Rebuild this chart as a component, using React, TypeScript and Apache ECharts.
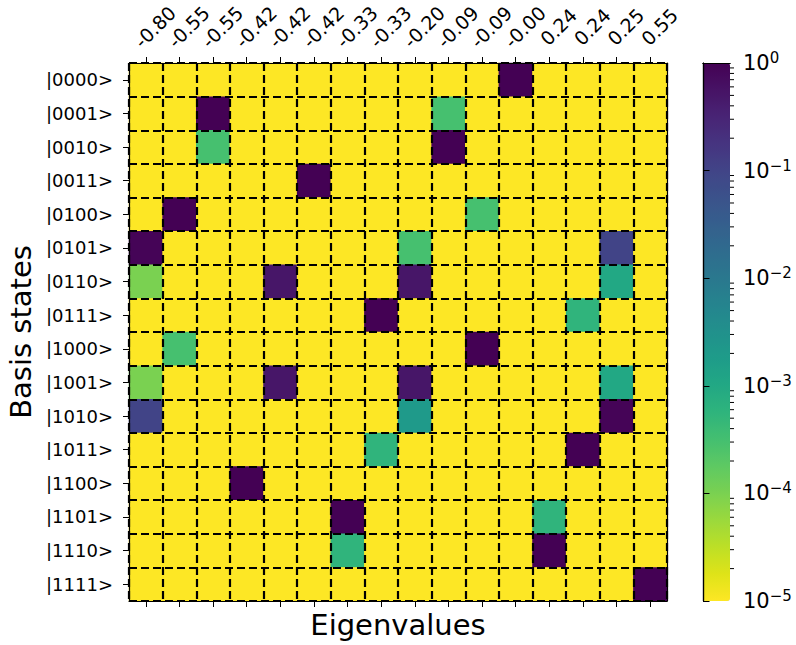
import React, { useEffect, useRef } from "react";
import * as echarts from "echarts";

const eigenvalueLabels = ["-0.80","-0.55","-0.55","-0.42","-0.42","-0.42","-0.33","-0.33","-0.20","-0.09","-0.09","-0.00","0.24","0.24","0.25","0.55"];
const basisStates = ["|0000>","|0001>","|0010>","|0011>","|0100>","|0101>","|0110>","|0111>","|1000>","|1001>","|1010>","|1011>","|1100>","|1101>","|1110>","|1111>"];

// probability |<basis|eigvec>|^2 ; rows = basis states, cols = eigenvectors
const row0000 = [0,0,0,0,0,0,0,0,0,0,0,1.0,0,0,0,0];
const row0001 = [0,0,0.999,0,0,0,0,0,0,3e-4,0,0,0,0,0,0];
const row0010 = [0,0,3e-4,0,0,0,0,0,0,0.999,0,0,0,0,0,0];
const row0011 = [0,0,0,0,0,1.0,0,0,0,0,0,0,0,0,0,0];
const row0100 = [0,1.0,0,0,0,0,0,0,0,0,3e-4,0,0,0,0,0];
const row0101 = [0.9,0,0,0,0,0,0,0,3e-4,0,0,0,0,0,0.1,0];
const row0110 = [1e-4,0,0,0,0.5,0,0,0,0.5,0,0,0,0,0,1e-3,0];
const row0111 = [0,0,0,0,0,0,0,1.0,0,0,0,0,0,5.5e-4,0,0];
const row1000 = [0,3e-4,0,0,0,0,0,0,0,0,1.0,0,0,0,0,0];
const row1001 = [1e-4,0,0,0,0.5,0,0,0,0.5,0,0,0,0,0,1e-3,0];
const row1010 = [0.1,0,0,0,0,0,0,0,2e-3,0,0,0,0,0,0.9,0];
const row1011 = [0,0,0,0,0,0,0,5.5e-4,0,0,0,0,0,1.0,0,0];
const row1100 = [0,0,0,1.0,0,0,0,0,0,0,0,0,0,0,0,0];
const row1101 = [0,0,0,0,0,0,1.0,0,0,0,0,0,5.5e-4,0,0,0];
const row1110 = [0,0,0,0,0,0,5.5e-4,0,0,0,0,0,1.0,0,0,0];
const row1111 = [0,0,0,0,0,0,0,0,0,0,0,0,0,0,0,1.0];
const probabilityRows = [row0000,row0001,row0010,row0011,row0100,row0101,row0110,row0111,row1000,row1001,row1010,row1011,row1100,row1101,row1110,row1111];

const logMin = -5;
const logMax = 0;
const colorbarDecades = [-5,-4,-3,-2,-1];
const minorMultipliers = [2,3,4,5,6,7,8,9];

// viridis, reversed (low -> yellow, high -> purple)
const viridis = ["#440154","#471365","#482475","#463480","#414487","#3b528b","#355f8d","#2f6c8e","#2a788e","#25848e","#21918c","#1e9c89","#22a884","#2fb47c","#44bf70","#5ec962","#7ad151","#9bd93c","#bddf26","#dfe318","#fde725"];
const viridisReversed = viridis.slice().reverse();

const FONT = "DejaVu Sans";

export default function App() {
  const ref = useRef<HTMLDivElement>(null);
  useEffect(() => {
    document.body.style.margin = "0";
    const chart = echarts.init(ref.current!, null, { renderer: "svg" });
    const heatData: number[][] = [];
    probabilityRows.forEach((row, r) => {
      row.forEach((p, c) => {
        const lv = p > 0 ? Math.max(logMin, Math.log10(p)) : logMin;
        heatData.push([c, r, lv]);
      });
    });
    const minorTicks: number[][] = [];
    colorbarDecades.forEach((d) => minorMultipliers.forEach((m) => minorTicks.push([1, d + Math.log10(m)])));

    const dashed = { color: "#000", width: 2.2, type: [8, 4] as any };
    const sup = (v: number) => (v === 0 ? "0" : "\u2212" + Math.abs(v));
    const tick = { show: true, alignWithLabel: true, interval: 0, length: 6, lineStyle: { color: "#000", width: 1 } };

    chart.setOption({
      animation: false,
      textStyle: { fontFamily: FONT },
      grid: [
        { left: 129, top: 63, width: 538, height: 538, show: true, backgroundColor: "#fde725", borderWidth: 0, outerBoundsMode: "none" },
        { left: 703, top: 63, width: 27, height: 538, show: false, outerBoundsMode: "none" },
      ],
      xAxis: [
        {
          type: "category", gridIndex: 0, data: eigenvalueLabels, position: "top", z: 5,
          axisLine: { show: true, lineStyle: { color: "#000", width: 1.2 } },
          axisTick: tick,
          axisLabel: {
            interval: 0, rotate: -45, align: "center", verticalAlign: "middle", margin: 27,
            fontSize: 19, color: "#000", fontFamily: FONT,
            formatter: (v: string) => `{t|${v}}`,
            rich: { t: { fontSize: 19, lineHeight: 20, fontFamily: FONT, color: "#000", padding: [0, 0, 0, 26] } },
          },
          splitLine: { show: true, interval: 0, lineStyle: dashed },
        },
        {
          type: "category", gridIndex: 0, data: eigenvalueLabels, position: "bottom", z: 5,
          axisLine: { show: true, lineStyle: { color: "#000", width: 1.2 } },
          axisTick: tick,
          axisLabel: { show: false, interval: 0 },
          splitLine: { show: false },
          name: "Eigenvalues", nameLocation: "middle", nameGap: 9,
          nameTextStyle: { fontSize: 29, color: "#000", fontFamily: FONT },
        },
        {
          type: "value", gridIndex: 1, min: 0, max: 1, position: "bottom", z: 10,
          axisLine: { show: true, lineStyle: { color: "#000", width: 1.2 } },
          axisTick: { show: false }, axisLabel: { show: false }, splitLine: { show: false },
        },
        {
          type: "value", gridIndex: 1, min: 0, max: 1, position: "top", z: 10,
          axisLine: { show: true, lineStyle: { color: "#000", width: 1.2 } },
          axisTick: { show: false }, axisLabel: { show: false }, splitLine: { show: false },
        },
      ],
      yAxis: [
        {
          type: "category", gridIndex: 0, data: basisStates, inverse: true, position: "left", z: 5,
          axisLine: { show: true, lineStyle: { color: "#000", width: 1.2 } },
          axisTick: tick,
          axisLabel: { interval: 0, margin: 16, fontSize: 18, color: "#000", fontFamily: FONT },
          splitLine: { show: true, interval: 0, lineStyle: dashed },
          name: "Basis states", nameLocation: "middle", nameGap: 76,
          nameTextStyle: { fontSize: 29, color: "#000", fontFamily: FONT },
        },
        {
          type: "category", gridIndex: 0, data: basisStates, inverse: true, position: "right", z: 5,
          axisLine: { show: true, lineStyle: { color: "#000", width: 1.2 } },
          axisTick: { show: false }, axisLabel: { show: false }, splitLine: { show: false },
        },
        {
          type: "value", gridIndex: 1, min: logMin, max: logMax, interval: 1, position: "right", z: 10,
          axisLine: { show: true, lineStyle: { color: "#000", width: 1.2 } },
          axisTick: { show: true, length: 6.5, lineStyle: { color: "#000", width: 1 } },
          axisLabel: {
            margin: 13, color: "#000", fontFamily: FONT,
            formatter: (v: number) => `{b|10}{s|${sup(v)}}`,
            rich: {
              b: { fontSize: 21, lineHeight: 25, fontFamily: FONT, color: "#000" },
              s: { fontSize: 15, lineHeight: 15, verticalAlign: "top", fontFamily: FONT, color: "#000" },
            },
          },
          splitLine: { show: false },
        },
        {
          type: "value", gridIndex: 1, min: logMin, max: logMax, position: "left", z: 10,
          axisLine: { show: true, lineStyle: { color: "#000", width: 1.2 } },
          axisTick: { show: false }, axisLabel: { show: false }, splitLine: { show: false },
        },
      ],
      visualMap: {
        type: "continuous", min: logMin, max: logMax, seriesIndex: 0,
        inRange: { color: viridisReversed },
        left: 703, top: 63, itemWidth: 27, itemHeight: 538, padding: 0,
        calculable: false, hoverLink: false, orient: "vertical",
      },
      series: [
        {
          type: "heatmap", xAxisIndex: 0, yAxisIndex: 0, data: heatData,
          itemStyle: { borderWidth: 0 }, emphasis: { disabled: true }, z: 2,
        },
        {
          type: "custom", xAxisIndex: 2, yAxisIndex: 2, data: minorTicks, z: 12, silent: true,
          renderItem: (params: any, api: any) => {
            const p = api.coord([api.value(0), api.value(1)]);
            return { type: "line", shape: { x1: p[0], y1: p[1], x2: p[0] + 4, y2: p[1] }, style: { stroke: "#000", lineWidth: 1 } };
          },
        },
      ],
    });
    return () => chart.dispose();
  }, []);
  return <div ref={ref} style={{ width: 796, height: 645 }} />;
}
